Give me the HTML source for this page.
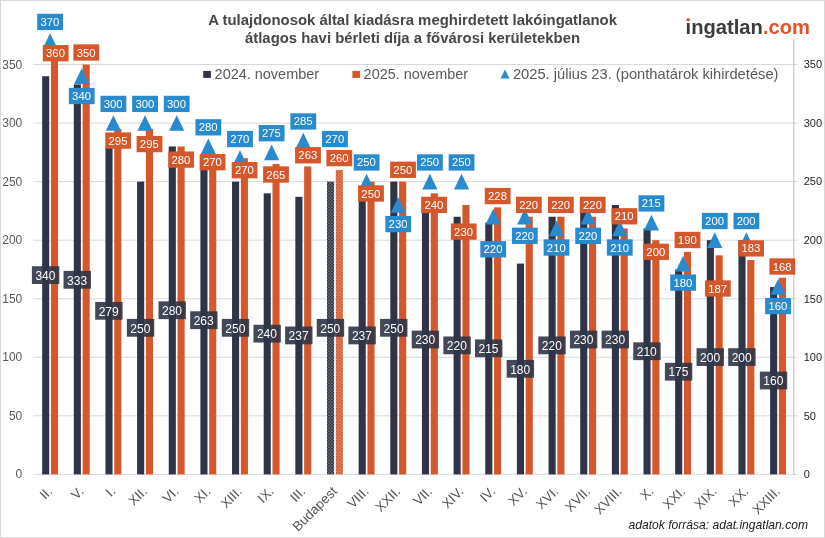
<!DOCTYPE html>
<html lang="hu"><head><meta charset="utf-8"><title>Bérleti díjak – ingatlan.com</title>
<style>html,body{margin:0;padding:0;background:#fff}svg{display:block}text{font-family:"Liberation Sans",sans-serif}</style>
</head><body>
<svg width="825" height="538" viewBox="0 0 825 538">
<defs>
<pattern id="pd" width="3.2" height="3.2" patternUnits="userSpaceOnUse"><rect width="3.2" height="3.2" fill="#2f3546"/><circle cx="0.8" cy="0.8" r="0.5" fill="#fff"/><circle cx="2.4" cy="2.4" r="0.5" fill="#fff"/></pattern>
<pattern id="po" width="3.2" height="3.2" patternUnits="userSpaceOnUse"><rect width="3.2" height="3.2" fill="#d5572c"/><circle cx="0.8" cy="0.8" r="0.5" fill="#fff"/><circle cx="2.4" cy="2.4" r="0.5" fill="#fff"/></pattern>
</defs>
<rect x="0" y="0" width="825" height="538" fill="#fff"/>
<rect x="0.5" y="0.5" width="824" height="537" fill="none" stroke="#d9d9d9" stroke-width="1"/>
<g stroke="#d9d9d9" stroke-width="1">
<line x1="33.5" y1="474.40" x2="797.6" y2="474.40"/>
<line x1="33.5" y1="415.84" x2="797.6" y2="415.84"/>
<line x1="33.5" y1="357.29" x2="797.6" y2="357.29"/>
<line x1="33.5" y1="298.73" x2="797.6" y2="298.73"/>
<line x1="33.5" y1="240.17" x2="797.6" y2="240.17"/>
<line x1="33.5" y1="181.61" x2="797.6" y2="181.61"/>
<line x1="33.5" y1="123.06" x2="797.6" y2="123.06"/>
<line x1="33.5" y1="64.50" x2="797.6" y2="64.50"/>
</g>
<line x1="793.8" y1="39" x2="793.8" y2="474.40" stroke="#bfbfbf" stroke-width="1"/>
<g font-size="12" fill="#595959" text-anchor="end">
<text x="22.3" y="478.40">0</text>
<text x="22.3" y="419.84">50</text>
<text x="22.3" y="361.29">100</text>
<text x="22.3" y="302.73">150</text>
<text x="22.3" y="244.17">200</text>
<text x="22.3" y="185.61">250</text>
<text x="22.3" y="127.06">300</text>
<text x="22.3" y="68.50">350</text>
</g>
<g font-size="11" fill="#1f1f1f" text-anchor="start">
<text x="803.7" y="478.20">0</text>
<text x="803.7" y="419.64">50</text>
<text x="803.7" y="361.09">100</text>
<text x="803.7" y="302.53">150</text>
<text x="803.7" y="243.97">200</text>
<text x="803.7" y="185.41">250</text>
<text x="803.7" y="126.86">300</text>
<text x="803.7" y="68.30">350</text>
</g>
<g>
<rect x="42.15" y="76.21" width="7.1" height="398.19" fill="#2f3546"/>
<rect x="50.95" y="52.79" width="7.1" height="421.61" fill="#d5572c"/>
<rect x="73.80" y="84.41" width="7.1" height="389.99" fill="#2f3546"/>
<rect x="82.60" y="64.50" width="7.1" height="409.90" fill="#d5572c"/>
<rect x="105.45" y="147.65" width="7.1" height="326.75" fill="#2f3546"/>
<rect x="114.25" y="128.91" width="7.1" height="345.49" fill="#d5572c"/>
<rect x="137.10" y="181.61" width="7.1" height="292.79" fill="#2f3546"/>
<rect x="145.90" y="128.91" width="7.1" height="345.49" fill="#d5572c"/>
<rect x="168.75" y="146.48" width="7.1" height="327.92" fill="#2f3546"/>
<rect x="177.55" y="146.48" width="7.1" height="327.92" fill="#d5572c"/>
<rect x="200.40" y="166.39" width="7.1" height="308.01" fill="#2f3546"/>
<rect x="209.20" y="158.19" width="7.1" height="316.21" fill="#d5572c"/>
<rect x="232.05" y="181.61" width="7.1" height="292.79" fill="#2f3546"/>
<rect x="240.85" y="158.19" width="7.1" height="316.21" fill="#d5572c"/>
<rect x="263.70" y="193.33" width="7.1" height="281.07" fill="#2f3546"/>
<rect x="272.50" y="164.05" width="7.1" height="310.35" fill="#d5572c"/>
<rect x="295.35" y="196.84" width="7.1" height="277.56" fill="#2f3546"/>
<rect x="304.15" y="166.39" width="7.1" height="308.01" fill="#d5572c"/>
<rect x="327.00" y="181.61" width="7.1" height="292.79" fill="url(#pd)"/>
<rect x="335.80" y="169.90" width="7.1" height="304.50" fill="url(#po)"/>
<rect x="358.65" y="196.84" width="7.1" height="277.56" fill="#2f3546"/>
<rect x="367.45" y="181.61" width="7.1" height="292.79" fill="#d5572c"/>
<rect x="390.30" y="181.61" width="7.1" height="292.79" fill="#2f3546"/>
<rect x="399.10" y="181.61" width="7.1" height="292.79" fill="#d5572c"/>
<rect x="421.95" y="205.04" width="7.1" height="269.36" fill="#2f3546"/>
<rect x="430.75" y="193.33" width="7.1" height="281.07" fill="#d5572c"/>
<rect x="453.60" y="216.75" width="7.1" height="257.65" fill="#2f3546"/>
<rect x="462.40" y="205.04" width="7.1" height="269.36" fill="#d5572c"/>
<rect x="485.25" y="222.60" width="7.1" height="251.80" fill="#2f3546"/>
<rect x="494.05" y="207.38" width="7.1" height="267.02" fill="#d5572c"/>
<rect x="516.90" y="263.59" width="7.1" height="210.81" fill="#2f3546"/>
<rect x="525.70" y="216.75" width="7.1" height="257.65" fill="#d5572c"/>
<rect x="548.55" y="216.75" width="7.1" height="257.65" fill="#2f3546"/>
<rect x="557.35" y="216.75" width="7.1" height="257.65" fill="#d5572c"/>
<rect x="580.20" y="205.04" width="7.1" height="269.36" fill="#2f3546"/>
<rect x="589.00" y="216.75" width="7.1" height="257.65" fill="#d5572c"/>
<rect x="611.85" y="205.04" width="7.1" height="269.36" fill="#2f3546"/>
<rect x="620.65" y="228.46" width="7.1" height="245.94" fill="#d5572c"/>
<rect x="643.50" y="228.46" width="7.1" height="245.94" fill="#2f3546"/>
<rect x="652.30" y="240.17" width="7.1" height="234.23" fill="#d5572c"/>
<rect x="675.15" y="269.45" width="7.1" height="204.95" fill="#2f3546"/>
<rect x="683.95" y="251.88" width="7.1" height="222.52" fill="#d5572c"/>
<rect x="706.80" y="240.17" width="7.1" height="234.23" fill="#2f3546"/>
<rect x="715.60" y="255.40" width="7.1" height="219.00" fill="#d5572c"/>
<rect x="738.45" y="240.17" width="7.1" height="234.23" fill="#2f3546"/>
<rect x="747.25" y="260.08" width="7.1" height="214.32" fill="#d5572c"/>
<rect x="770.10" y="287.02" width="7.1" height="187.38" fill="#2f3546"/>
<rect x="778.90" y="277.65" width="7.1" height="196.75" fill="#d5572c"/>
</g>
<g fill="#2a8ace">
<polygon points="50.10,33.18 57.70,48.88 42.50,48.88"/>
<polygon points="81.75,68.31 89.35,84.01 74.15,84.01"/>
<polygon points="113.40,115.16 121.00,130.86 105.80,130.86"/>
<polygon points="145.05,115.16 152.65,130.86 137.45,130.86"/>
<polygon points="176.70,115.16 184.30,130.86 169.10,130.86"/>
<polygon points="208.35,138.58 215.95,154.28 200.75,154.28"/>
<polygon points="240.00,150.29 247.60,165.99 232.40,165.99"/>
<polygon points="271.65,144.44 279.25,160.14 264.05,160.14"/>
<polygon points="303.30,132.72 310.90,148.42 295.70,148.42"/>
<polygon points="334.95,150.29 342.55,165.99 327.35,165.99"/>
<polygon points="366.60,173.71 374.20,189.41 359.00,189.41"/>
<polygon points="398.25,197.14 405.85,212.84 390.65,212.84"/>
<polygon points="429.90,173.71 437.50,189.41 422.30,189.41"/>
<polygon points="461.55,173.71 469.15,189.41 453.95,189.41"/>
<polygon points="493.20,208.85 500.80,224.55 485.60,224.55"/>
<polygon points="524.85,208.85 532.45,224.55 517.25,224.55"/>
<polygon points="556.50,220.56 564.10,236.26 548.90,236.26"/>
<polygon points="588.15,208.85 595.75,224.55 580.55,224.55"/>
<polygon points="619.80,220.56 627.40,236.26 612.20,236.26"/>
<polygon points="651.45,214.70 659.05,230.40 643.85,230.40"/>
<polygon points="683.10,255.69 690.70,271.39 675.50,271.39"/>
<polygon points="714.75,232.27 722.35,247.97 707.15,247.97"/>
<polygon points="746.40,232.27 754.00,247.97 738.80,247.97"/>
<polygon points="778.05,279.12 785.65,294.82 770.45,294.82"/>
</g>
<g font-size="11.3" fill="#fff" text-anchor="middle">
<rect x="37.20" y="13.78" width="25.8" height="16.3" fill="#2a8ace"/>
<text x="49.90" y="25.93">370</text>
<rect x="68.85" y="87.86" width="25.8" height="16.3" fill="#2a8ace"/>
<text x="81.55" y="100.01">340</text>
<rect x="100.50" y="95.76" width="25.8" height="16.3" fill="#2a8ace"/>
<text x="113.20" y="107.91">300</text>
<rect x="132.15" y="95.76" width="25.8" height="16.3" fill="#2a8ace"/>
<text x="144.85" y="107.91">300</text>
<rect x="163.80" y="95.76" width="25.8" height="16.3" fill="#2a8ace"/>
<text x="176.50" y="107.91">300</text>
<rect x="195.45" y="119.18" width="25.8" height="16.3" fill="#2a8ace"/>
<text x="208.15" y="131.33">280</text>
<rect x="227.10" y="130.89" width="25.8" height="16.3" fill="#2a8ace"/>
<text x="239.80" y="143.04">270</text>
<rect x="258.75" y="125.04" width="25.8" height="16.3" fill="#2a8ace"/>
<text x="271.45" y="137.19">275</text>
<rect x="290.40" y="113.32" width="25.8" height="16.3" fill="#2a8ace"/>
<text x="303.10" y="125.47">285</text>
<rect x="322.05" y="130.89" width="25.8" height="16.3" fill="#2a8ace"/>
<text x="334.75" y="143.04">270</text>
<rect x="353.70" y="154.31" width="25.8" height="16.3" fill="#2a8ace"/>
<text x="366.40" y="166.46">250</text>
<rect x="385.35" y="215.94" width="25.8" height="16.3" fill="#2a8ace"/>
<text x="398.05" y="228.09">230</text>
<rect x="417.00" y="154.31" width="25.8" height="16.3" fill="#2a8ace"/>
<text x="429.70" y="166.46">250</text>
<rect x="448.65" y="154.31" width="25.8" height="16.3" fill="#2a8ace"/>
<text x="461.35" y="166.46">250</text>
<rect x="480.30" y="241.15" width="25.8" height="16.3" fill="#2a8ace"/>
<text x="493.00" y="253.30">220</text>
<rect x="511.95" y="227.65" width="25.8" height="16.3" fill="#2a8ace"/>
<text x="524.65" y="239.80">220</text>
<rect x="543.60" y="239.36" width="25.8" height="16.3" fill="#2a8ace"/>
<text x="556.30" y="251.51">210</text>
<rect x="575.25" y="227.65" width="25.8" height="16.3" fill="#2a8ace"/>
<text x="587.95" y="239.80">220</text>
<rect x="606.90" y="239.36" width="25.8" height="16.3" fill="#2a8ace"/>
<text x="619.60" y="251.51">210</text>
<rect x="638.55" y="195.30" width="25.8" height="16.3" fill="#2a8ace"/>
<text x="651.25" y="207.45">215</text>
<rect x="670.20" y="274.49" width="25.8" height="16.3" fill="#2a8ace"/>
<text x="682.90" y="286.64">180</text>
<rect x="701.85" y="212.87" width="25.8" height="16.3" fill="#2a8ace"/>
<text x="714.55" y="225.02">200</text>
<rect x="733.50" y="212.87" width="25.8" height="16.3" fill="#2a8ace"/>
<text x="746.20" y="225.02">200</text>
<rect x="765.15" y="297.92" width="25.8" height="16.3" fill="#2a8ace"/>
<text x="777.85" y="310.07">160</text>
<rect x="42.80" y="45.05" width="25.8" height="16.3" fill="#d5572c"/>
<text x="55.50" y="57.20">360</text>
<rect x="73.40" y="44.35" width="25.8" height="16.3" fill="#d5572c"/>
<text x="86.10" y="56.50">350</text>
<rect x="105.30" y="132.45" width="25.8" height="16.3" fill="#d5572c"/>
<text x="118.00" y="144.60">295</text>
<rect x="136.60" y="135.95" width="25.8" height="16.3" fill="#d5572c"/>
<text x="149.30" y="148.10">295</text>
<rect x="168.25" y="151.45" width="25.8" height="16.3" fill="#d5572c"/>
<text x="180.95" y="163.60">280</text>
<rect x="199.65" y="154.05" width="25.8" height="16.3" fill="#d5572c"/>
<text x="212.35" y="166.20">270</text>
<rect x="231.70" y="162.05" width="25.8" height="16.3" fill="#d5572c"/>
<text x="244.40" y="174.20">270</text>
<rect x="263.10" y="166.35" width="25.8" height="16.3" fill="#d5572c"/>
<text x="275.80" y="178.50">265</text>
<rect x="295.10" y="147.15" width="25.8" height="16.3" fill="#d5572c"/>
<text x="307.80" y="159.30">263</text>
<rect x="326.40" y="149.95" width="25.8" height="16.3" fill="#d5572c"/>
<text x="339.10" y="162.10">260</text>
<rect x="358.10" y="185.35" width="25.8" height="16.3" fill="#d5572c"/>
<text x="370.80" y="197.50">250</text>
<rect x="390.10" y="161.65" width="25.8" height="16.3" fill="#d5572c"/>
<text x="402.80" y="173.80">250</text>
<rect x="421.15" y="196.75" width="25.8" height="16.3" fill="#d5572c"/>
<text x="433.85" y="208.90">240</text>
<rect x="450.85" y="223.45" width="25.8" height="16.3" fill="#d5572c"/>
<text x="463.55" y="235.60">230</text>
<rect x="484.80" y="187.90" width="25.8" height="16.3" fill="#d5572c"/>
<text x="497.50" y="200.05">228</text>
<rect x="515.95" y="196.75" width="25.8" height="16.3" fill="#d5572c"/>
<text x="528.65" y="208.90">220</text>
<rect x="547.95" y="196.75" width="25.8" height="16.3" fill="#d5572c"/>
<text x="560.65" y="208.90">220</text>
<rect x="579.80" y="196.75" width="25.8" height="16.3" fill="#d5572c"/>
<text x="592.50" y="208.90">220</text>
<rect x="611.45" y="208.15" width="25.8" height="16.3" fill="#d5572c"/>
<text x="624.15" y="220.30">210</text>
<rect x="643.10" y="243.65" width="25.8" height="16.3" fill="#d5572c"/>
<text x="655.80" y="255.80">200</text>
<rect x="674.60" y="231.85" width="25.8" height="16.3" fill="#d5572c"/>
<text x="687.30" y="244.00">190</text>
<rect x="704.95" y="280.35" width="25.8" height="16.3" fill="#d5572c"/>
<text x="717.65" y="292.50">187</text>
<rect x="738.20" y="240.25" width="25.8" height="16.3" fill="#d5572c"/>
<text x="750.90" y="252.40">183</text>
<rect x="769.40" y="258.35" width="25.8" height="16.3" fill="#d5572c"/>
<text x="782.10" y="270.50">168</text>
<rect x="31.90" y="266.21" width="27.4" height="17.8" fill="#2f3546" fill-opacity="0.9"/>
<text x="45.40" y="279.86" font-size="12">340</text>
<rect x="63.55" y="270.90" width="27.4" height="17.8" fill="#2f3546" fill-opacity="0.9"/>
<text x="77.05" y="284.55" font-size="12">333</text>
<rect x="95.20" y="301.93" width="27.4" height="17.8" fill="#2f3546" fill-opacity="0.9"/>
<text x="108.70" y="315.58" font-size="12">279</text>
<rect x="126.85" y="318.91" width="27.4" height="17.8" fill="#2f3546" fill-opacity="0.9"/>
<text x="140.35" y="332.56" font-size="12">250</text>
<rect x="158.50" y="301.34" width="27.4" height="17.8" fill="#2f3546" fill-opacity="0.9"/>
<text x="172.00" y="314.99" font-size="12">280</text>
<rect x="190.15" y="311.29" width="27.4" height="17.8" fill="#2f3546" fill-opacity="0.9"/>
<text x="203.65" y="324.94" font-size="12">263</text>
<rect x="221.80" y="318.91" width="27.4" height="17.8" fill="#2f3546" fill-opacity="0.9"/>
<text x="235.30" y="332.56" font-size="12">250</text>
<rect x="253.45" y="324.76" width="27.4" height="17.8" fill="#2f3546" fill-opacity="0.9"/>
<text x="266.95" y="338.41" font-size="12">240</text>
<rect x="285.10" y="326.52" width="27.4" height="17.8" fill="#2f3546" fill-opacity="0.9"/>
<text x="298.60" y="340.17" font-size="12">237</text>
<rect x="316.75" y="318.91" width="27.4" height="17.8" fill="#2f3546" fill-opacity="0.9"/>
<text x="330.25" y="332.56" font-size="12">250</text>
<rect x="348.40" y="326.52" width="27.4" height="17.8" fill="#2f3546" fill-opacity="0.9"/>
<text x="361.90" y="340.17" font-size="12">237</text>
<rect x="380.05" y="318.91" width="27.4" height="17.8" fill="#2f3546" fill-opacity="0.9"/>
<text x="393.55" y="332.56" font-size="12">250</text>
<rect x="411.70" y="330.62" width="27.4" height="17.8" fill="#2f3546" fill-opacity="0.9"/>
<text x="425.20" y="344.27" font-size="12">230</text>
<rect x="443.35" y="336.47" width="27.4" height="17.8" fill="#2f3546" fill-opacity="0.9"/>
<text x="456.85" y="350.12" font-size="12">220</text>
<rect x="475.00" y="339.40" width="27.4" height="17.8" fill="#2f3546" fill-opacity="0.9"/>
<text x="488.50" y="353.05" font-size="12">215</text>
<rect x="506.65" y="359.90" width="27.4" height="17.8" fill="#2f3546" fill-opacity="0.9"/>
<text x="520.15" y="373.55" font-size="12">180</text>
<rect x="538.30" y="336.47" width="27.4" height="17.8" fill="#2f3546" fill-opacity="0.9"/>
<text x="551.80" y="350.12" font-size="12">220</text>
<rect x="569.95" y="330.62" width="27.4" height="17.8" fill="#2f3546" fill-opacity="0.9"/>
<text x="583.45" y="344.27" font-size="12">230</text>
<rect x="601.60" y="330.62" width="27.4" height="17.8" fill="#2f3546" fill-opacity="0.9"/>
<text x="615.10" y="344.27" font-size="12">230</text>
<rect x="633.25" y="342.33" width="27.4" height="17.8" fill="#2f3546" fill-opacity="0.9"/>
<text x="646.75" y="355.98" font-size="12">210</text>
<rect x="664.90" y="362.82" width="27.4" height="17.8" fill="#2f3546" fill-opacity="0.9"/>
<text x="678.40" y="376.47" font-size="12">175</text>
<rect x="696.55" y="348.19" width="27.4" height="17.8" fill="#2f3546" fill-opacity="0.9"/>
<text x="710.05" y="361.84" font-size="12">200</text>
<rect x="728.20" y="348.19" width="27.4" height="17.8" fill="#2f3546" fill-opacity="0.9"/>
<text x="741.70" y="361.84" font-size="12">200</text>
<rect x="759.85" y="371.61" width="27.4" height="17.8" fill="#2f3546" fill-opacity="0.9"/>
<text x="773.35" y="385.26" font-size="12">160</text>
</g>
<g font-size="13.33" fill="#555" text-anchor="end">
<text transform="translate(53.00,492.2) rotate(-45)">II.</text>
<text transform="translate(84.65,492.2) rotate(-45)">V.</text>
<text transform="translate(116.30,492.2) rotate(-45)">I.</text>
<text transform="translate(147.95,492.2) rotate(-45)">XII.</text>
<text transform="translate(179.60,492.2) rotate(-45)">VI.</text>
<text transform="translate(211.25,492.2) rotate(-45)">XI.</text>
<text transform="translate(242.90,492.2) rotate(-45)">XIII.</text>
<text transform="translate(274.55,492.2) rotate(-45)">IX.</text>
<text transform="translate(306.20,492.2) rotate(-45)">III.</text>
<text transform="translate(337.85,492.2) rotate(-45)">Budapest</text>
<text transform="translate(369.50,492.2) rotate(-45)">VIII.</text>
<text transform="translate(401.15,492.2) rotate(-45)">XXII.</text>
<text transform="translate(432.80,492.2) rotate(-45)">VII.</text>
<text transform="translate(464.45,492.2) rotate(-45)">XIV.</text>
<text transform="translate(496.10,492.2) rotate(-45)">IV.</text>
<text transform="translate(527.75,492.2) rotate(-45)">XV.</text>
<text transform="translate(559.40,492.2) rotate(-45)">XVI.</text>
<text transform="translate(591.05,492.2) rotate(-45)">XVII.</text>
<text transform="translate(622.70,492.2) rotate(-45)">XVIII.</text>
<text transform="translate(654.35,492.2) rotate(-45)">X.</text>
<text transform="translate(686.00,492.2) rotate(-45)">XXI.</text>
<text transform="translate(717.65,492.2) rotate(-45)">XIX.</text>
<text transform="translate(749.30,492.2) rotate(-45)">XX.</text>
<text transform="translate(780.95,492.2) rotate(-45)">XXIII.</text>
</g>
<g font-size="15" font-weight="bold" fill="#474747" text-anchor="middle">
<text x="412.6" y="24.6" textLength="408.8" lengthAdjust="spacingAndGlyphs">A tulajdonosok által kiadásra meghirdetett lakóingatlanok</text>
<text x="412.5" y="43.1" textLength="335" lengthAdjust="spacingAndGlyphs">átlagos havi bérleti díja a fővárosi kerületekben</text>
</g>
<g font-size="14.6" fill="#595959">
<rect x="203.2" y="70.9" width="7.7" height="7" fill="#2f3546"/>
<text x="214.6" y="78.8" textLength="104.5" lengthAdjust="spacingAndGlyphs">2024. november</text>
<rect x="352.4" y="70.9" width="7.7" height="7" fill="#d5572c"/>
<text x="363.6" y="78.8" textLength="104.5" lengthAdjust="spacingAndGlyphs">2025. november</text>
<polygon points="505,69.6 509.5,78.4 500.5,78.4" fill="#2a8ace"/>
<text x="512.9" y="78.8" textLength="265.6" lengthAdjust="spacingAndGlyphs">2025. július 23. (ponthatárok kihirdetése)</text>
</g>
<g font-size="20" font-weight="bold">
<text x="685.6" y="33.6" textLength="124.4" lengthAdjust="spacingAndGlyphs"><tspan fill="#3c3c3c">ingatlan</tspan><tspan fill="#e8502a">.com</tspan></text>
</g>
<rect x="686" y="17" width="5" height="5" fill="#fff"/>
<circle cx="688.1" cy="19.7" r="1.75" fill="#e8502a"/>
<text x="808" y="529.3" font-size="12.1" font-style="italic" fill="#1a1a1a" text-anchor="end" textLength="179.5" lengthAdjust="spacingAndGlyphs">adatok forrása: adat.ingatlan.com</text>
</svg>
</body></html>
